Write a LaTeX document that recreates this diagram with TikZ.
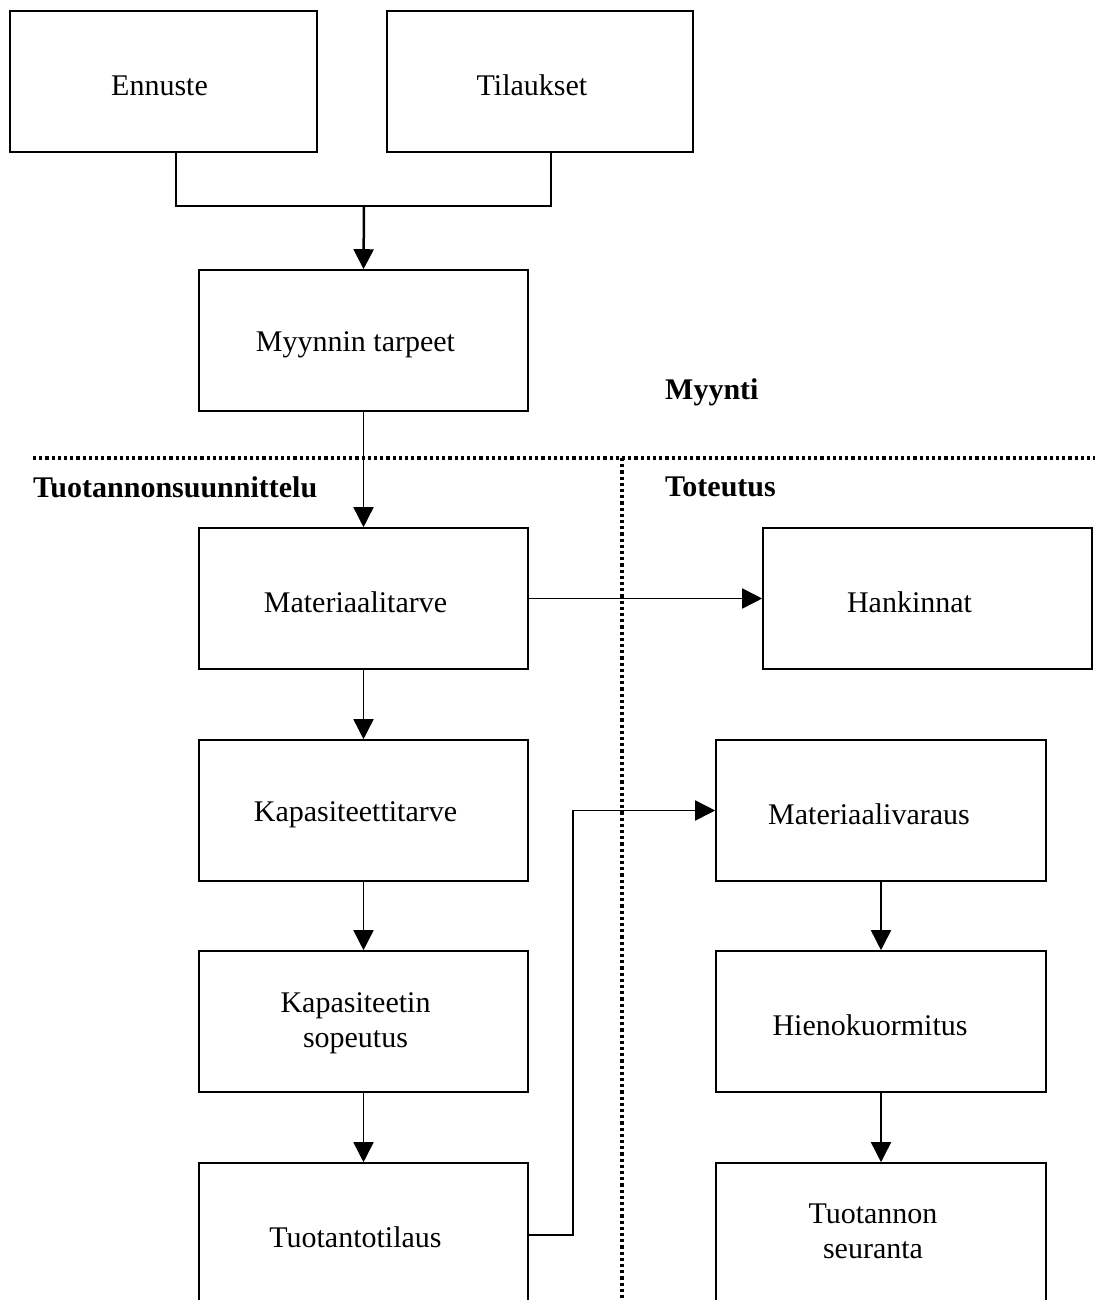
\documentclass[tikz,border=0pt]{standalone}
\usepackage{fontspec}
\setmainfont{Liberation Serif}
\usetikzlibrary{arrows.meta}
\begin{document}
\begin{tikzpicture}[x=1pt,y=-1pt,
  box/.style={draw,line width=1.6pt,minimum height=141pt,inner sep=0pt},
  lbox/.style={box,minimum width=329pt},
  rbox/.style={box,minimum width=330pt},
  txt/.style={inner sep=0pt,align=center,xshift=-8pt,yshift=-4pt,
    font=\fontsize{30}{35}\selectfont},
  link/.style={line width=1.6pt},
  arr/.style={link,-{Triangle[length=20pt,width=20pt]}},
  heading/.style={anchor=west,inner sep=0pt,font=\fontsize{30}{35}\selectfont\bfseries},
  divider/.style={line width=3.2pt,dash pattern=on 3.2pt off 3pt}]
\useasboundingbox (0,0) rectangle (1095,1300);
\clip (0,0) rectangle (1095,1300);

% sales inputs
\node[box,minimum width=307pt,label={[txt,xshift=4pt]center:Ennuste}] (enn) at (163.5,81.5) {};
\node[box,minimum width=306pt,label={[txt]center:Tilaukset}] (til) at (540,81.5) {};
\node[lbox,label={[txt]center:Myynnin tarpeet}] (myy) at (363.5,340.5) {};

% production planning column
\node[lbox,label={[txt]center:Materiaalitarve}] (mat) at (363.5,598.5) {};
\node[lbox,label={[txt]center:Kapasiteettitarve}] (kap) at (363.5,810.5) {};
\node[lbox,label={[txt,yshift=2pt]center:{Kapasiteetin\\sopeutus}}] (sop) at (363.5,1021.5) {};
\node[lbox,label={[txt]center:Tuotantotilaus}] (tuo) at (363.5,1233.5) {};

% execution column
\node[lbox,label={[txt,xshift=-10pt]center:Hankinnat}] (han) at (927.5,598.5) {};
\node[rbox,label={[txt,xshift=-4pt]center:Materiaalivaraus}] (mvar) at (881,810.5) {};
\node[rbox,label={[txt,xshift=-3pt]center:Hienokuormitus}] (hien) at (881,1021.5) {};
\node[rbox,label={[txt,yshift=6pt]center:{Tuotannon\\seuranta}}] (seur) at (881,1233.5) {};

% area headings
\node[heading] (hMyy) at (665,392) {Myynti};
\node[heading] (hTuo) at (33,487) {Tuotannonsuunnittelu};
\node[heading] (hTot) at (665,487) {Toteutus};

% area dividers
\coordinate (dl) at (33,458);
\coordinate (dr) at (1095,458);
\coordinate (dt) at (622,458);
\coordinate (db) at (622,1300);
\draw[divider] (dl) -- (dr);
\draw[divider] (dt) -- (db);

% connectors
\coordinate (join) at (364,206);
\draw[link] ([xshift=12.5pt]enn.south) |- (join) -| ([xshift=11pt]til.south);
\draw[arr,line width=2.5pt] (join) -- (myy.north);
\draw[arr] (myy.south) -- (mat.north);
\draw[arr] (mat.east) -- (han.west);
\draw[arr] (mat.south) -- (kap.north);
\draw[arr] (kap.south) -- (sop.north);
\draw[arr] (sop.south) -- (tuo.north);
\draw[arr] ([yshift=-1.5pt]tuo.east) -- ++(44,0) |- (mvar.west);
\draw[arr] (mvar.south) -- (hien.north);
\draw[arr] (hien.south) -- (seur.north);
\end{tikzpicture}
\end{document}
